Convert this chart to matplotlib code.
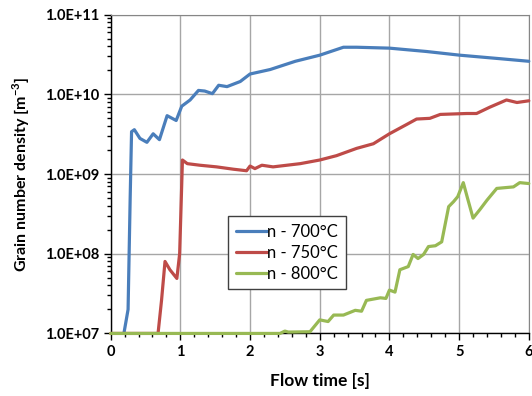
import math
import matplotlib
matplotlib.use("Agg")
import matplotlib.pyplot as plt
from matplotlib.ticker import FuncFormatter, LogLocator, MultipleLocator

# Data (flow time [s], grain number density [m^-3])
t_700 = [0.19, 0.25, 0.28, 0.30, 0.34, 0.42, 0.52, 0.61, 0.70, 0.81, 0.94, 1.02,
         1.14, 1.26, 1.35, 1.46, 1.55, 1.67, 1.86, 2.0, 2.29, 2.65, 3.0, 3.34,
         3.53, 4.0, 4.53, 5.01, 5.59, 6.0]
n_700 = [1e7, 2e7, 5e8, 3.4e9, 3.6e9, 2.8e9, 2.5e9, 3.2e9, 2.7e9, 5.4e9, 4.7e9,
         7.1e9, 8.5e9, 1.12e10, 1.1e10, 1.02e10, 1.3e10, 1.25e10, 1.45e10, 1.8e10,
         2.05e10, 2.6e10, 3.1e10, 3.9e10, 3.9e10, 3.8e10, 3.45e10, 3.1e10,
         2.8e10, 2.6e10]

t_750 = [0.0, 0.68, 0.73, 0.78, 0.85, 0.95, 0.99, 1.03, 1.10, 1.28, 1.52, 1.76,
         1.95, 2.0, 2.07, 2.17, 2.33, 2.72, 3.0, 3.24, 3.53, 3.77, 4.0, 4.25,
         4.39, 4.58, 4.73, 5.11, 5.25, 5.44, 5.68, 5.83, 6.0]
n_750 = [1e7, 1e7, 2.6e7, 8e7, 6.3e7, 4.9e7, 1e8, 1.5e9, 1.35e9, 1.29e9, 1.23e9,
         1.15e9, 1.1e9, 1.26e9, 1.17e9, 1.29e9, 1.23e9, 1.35e9, 1.5e9, 1.7e9,
         2.1e9, 2.4e9, 3.2e9, 4.2e9, 4.9e9, 5.0e9, 5.6e9, 5.75e9, 5.75e9,
         6.9e9, 8.5e9, 7.9e9, 8.3e9]

t_800 = [0.0, 2.43, 2.50, 2.55, 2.86, 3.0, 3.12, 3.20, 3.34, 3.51, 3.60, 3.67,
         3.87, 3.95, 4.0, 4.08, 4.15, 4.27, 4.34, 4.41, 4.49, 4.56, 4.66, 4.75,
         4.85, 4.92, 4.98, 5.06, 5.12, 5.20, 5.30, 5.40, 5.54, 5.78, 5.87, 6.0]
n_800 = [1e7, 1e7, 1.07e7, 1.04e7, 1.05e7, 1.48e7, 1.41e7, 1.7e7, 1.7e7, 1.95e7,
         1.9e7, 2.6e7, 2.8e7, 2.75e7, 3.5e7, 3.3e7, 6.3e7, 6.9e7, 9.8e7, 8.7e7,
         9.8e7, 1.23e8, 1.26e8, 1.41e8, 3.9e8, 4.5e8, 5.2e8, 7.8e8, 5.0e8,
         2.8e8, 3.6e8, 4.7e8, 6.6e8, 6.9e8, 7.8e8, 7.6e8]

series = [
    (t_700, n_700, "#4a7ebb", "n - 700°C"),
    (t_750, n_750, "#be4b48", "n - 750°C"),
    (t_800, n_800, "#98b954", "n - 800°C"),
]

plt.rcParams["font.family"] = ["Lato", "DejaVu Sans"]
plt.rcParams["mathtext.fontset"] = "custom"
plt.rcParams["mathtext.rm"] = "Lato"
plt.rcParams["mathtext.bf"] = "Lato:bold"

fig = plt.figure(figsize=(5.32, 3.96), dpi=100)
ax = fig.add_axes([0.208, 0.158, 0.786, 0.805])

for t, n, color, label in series:
    ax.plot(t, n, color=color, lw=2.3, label=label, clip_on=False, zorder=3,
            solid_joinstyle="round", solid_capstyle="round")

ax.set_yscale("log")
ax.set_xlim(0, 6)
ax.set_ylim(1e7, 1e11)

ax.xaxis.set_major_locator(MultipleLocator(1))
ax.xaxis.set_minor_locator(MultipleLocator(0.2))
ax.yaxis.set_major_locator(LogLocator(base=10, numticks=10))
ax.yaxis.set_minor_locator(LogLocator(base=10, subs=range(2, 10), numticks=20))
ax.yaxis.set_major_formatter(FuncFormatter(lambda v, p: "1.0E+%02d" % round(math.log10(v))))
ax.yaxis.set_minor_formatter(FuncFormatter(lambda v, p: ""))

ax.grid(True, which="major", color="#a6a6a6", lw=1.0)
ax.set_axisbelow(True)

for side in ["top", "right"]:
    ax.spines[side].set_color("#868686")
for side in ["left", "bottom"]:
    ax.spines[side].set_color("#000000")
    ax.spines[side].set_linewidth(1.0)

ax.tick_params(which="major", direction="out", length=5, width=1, labelsize=10.5)
ax.tick_params(which="minor", direction="out", length=3, width=1)
for lbl in ax.get_xticklabels() + ax.get_yticklabels():
    lbl.set_fontweight("bold")

ax.set_xlabel("Flow time [s]", fontsize=12.5, fontweight="bold", labelpad=10)
ax.set_ylabel("Grain number density [m$^{\\mathbf{-3}}$]", fontsize=11.5,
              fontweight="bold", labelpad=9)

leg = ax.legend(loc="upper left", bbox_to_anchor=(0.281, 0.368), borderaxespad=0,
                fontsize=12, handlelength=1.9, handletextpad=0.0, borderpad=0.45,
                labelspacing=0.3, fancybox=False, framealpha=1)
leg.get_frame().set_edgecolor("#404040")
leg.get_frame().set_linewidth(1.0)

fig.savefig("out.png", dpi=100)
